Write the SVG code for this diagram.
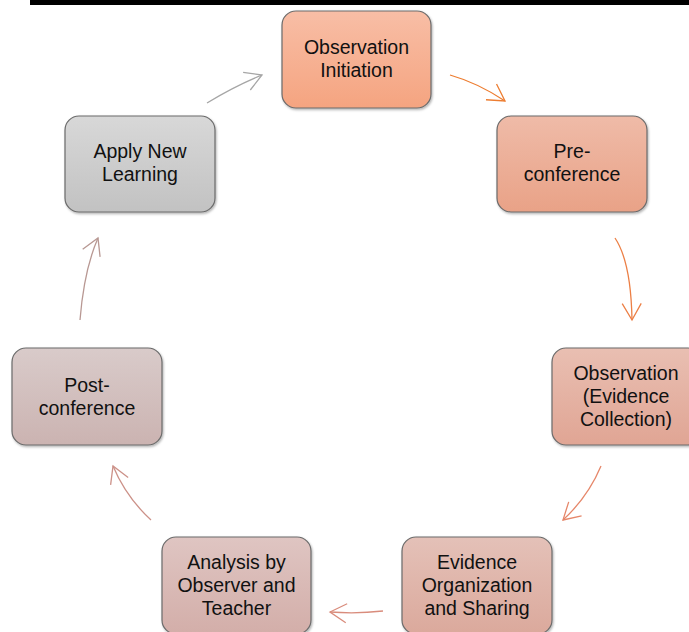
<svg xmlns="http://www.w3.org/2000/svg" width="689" height="632" viewBox="0 0 689 632">
<style>
.box{stroke:#6b6b6b;stroke-width:1.2;filter:url(#sh)}
.t{font-family:"Liberation Sans",Arial,sans-serif;font-size:19.5px;fill:#111;text-anchor:middle}
.c{fill:none;stroke-width:1.3}
</style>
<defs>
<filter id="sh" x="-10%" y="-10%" width="120%" height="120%"><feDropShadow dx="1" dy="1.5" stdDeviation="0.8" flood-color="#000" flood-opacity="0.3"/></filter>
<linearGradient id="g1" x1="0" y1="0" x2="0" y2="1"><stop offset="0" stop-color="#f8bea6"/><stop offset="1" stop-color="#f5a480"/></linearGradient>
<linearGradient id="g2" x1="0" y1="0" x2="0" y2="1"><stop offset="0" stop-color="#efbba8"/><stop offset="1" stop-color="#e9a287"/></linearGradient>
<linearGradient id="g3" x1="0" y1="0" x2="0" y2="1"><stop offset="0" stop-color="#e9bfb2"/><stop offset="1" stop-color="#e0a594"/></linearGradient>
<linearGradient id="g4" x1="0" y1="0" x2="0" y2="1"><stop offset="0" stop-color="#e4c1b8"/><stop offset="1" stop-color="#dba99c"/></linearGradient>
<linearGradient id="g5" x1="0" y1="0" x2="0" y2="1"><stop offset="0" stop-color="#dfc5c2"/><stop offset="1" stop-color="#d3aea9"/></linearGradient>
<linearGradient id="g6" x1="0" y1="0" x2="0" y2="1"><stop offset="0" stop-color="#d9cbca"/><stop offset="1" stop-color="#cbb3b1"/></linearGradient>
<linearGradient id="g7" x1="0" y1="0" x2="0" y2="1"><stop offset="0" stop-color="#d8d8d8"/><stop offset="1" stop-color="#c2c2c2"/></linearGradient>
<marker id="m1" markerUnits="userSpaceOnUse" viewBox="-20 -12 22 24" refX="0" refY="0" markerWidth="22" markerHeight="24" orient="auto"><path d="M-16.5,-9.5 L0,0 L-16.5,9.5" fill="none" stroke="#ed7d31" stroke-width="1.3"/></marker>
<marker id="m2" markerUnits="userSpaceOnUse" viewBox="-20 -12 22 24" refX="0" refY="0" markerWidth="22" markerHeight="24" orient="auto"><path d="M-16.5,-9.5 L0,0 L-16.5,9.5" fill="none" stroke="#ec7f45" stroke-width="1.3"/></marker>
<marker id="m3" markerUnits="userSpaceOnUse" viewBox="-20 -12 22 24" refX="0" refY="0" markerWidth="22" markerHeight="24" orient="auto"><path d="M-16.5,-9.5 L0,0 L-16.5,9.5" fill="none" stroke="#e6876a" stroke-width="1.3"/></marker>
<marker id="m4" markerUnits="userSpaceOnUse" viewBox="-20 -12 22 24" refX="0" refY="0" markerWidth="22" markerHeight="24" orient="auto"><path d="M-16.5,-9.5 L0,0 L-16.5,9.5" fill="none" stroke="#d98c7c" stroke-width="1.3"/></marker>
<marker id="m5" markerUnits="userSpaceOnUse" viewBox="-20 -12 22 24" refX="0" refY="0" markerWidth="22" markerHeight="24" orient="auto"><path d="M-16.5,-9.5 L0,0 L-16.5,9.5" fill="none" stroke="#cc9188" stroke-width="1.3"/></marker>
<marker id="m6" markerUnits="userSpaceOnUse" viewBox="-20 -12 22 24" refX="0" refY="0" markerWidth="22" markerHeight="24" orient="auto"><path d="M-16.5,-9.5 L0,0 L-16.5,9.5" fill="none" stroke="#b89893" stroke-width="1.3"/></marker>
<marker id="m7" markerUnits="userSpaceOnUse" viewBox="-20 -12 22 24" refX="0" refY="0" markerWidth="22" markerHeight="24" orient="auto"><path d="M-16.5,-9.5 L0,0 L-16.5,9.5" fill="none" stroke="#a6a6a6" stroke-width="1.3"/></marker>
</defs>
<rect width="689" height="632" fill="#fff"/>
<rect x="30" y="0" width="659" height="5" fill="#000"/>
<g id="connectors">
<path class="c" stroke="#ed7d31" marker-end="url(#m1)" d="M450,75 Q478,83 505,101"/>
<path class="c" stroke="#ec7f45" marker-end="url(#m2)" d="M615,238 Q631,262 632,320"/>
<path class="c" stroke="#e6876a" marker-end="url(#m3)" d="M601,466 Q588,497 563,520"/>
<path class="c" stroke="#d98c7c" marker-end="url(#m4)" d="M383,611 Q357,614 330,612"/>
<path class="c" stroke="#cc9188" marker-end="url(#m5)" d="M151,520 Q126,497 113,466"/>
<path class="c" stroke="#b89893" marker-end="url(#m6)" d="M80,320 Q84,270 98,238"/>
<path class="c" stroke="#a6a6a6" marker-end="url(#m7)" d="M207,103 Q235,86 262,75"/>
</g>
<g id="n1"><rect class="box" x="282" y="11" width="149" height="97" rx="14" fill="url(#g1)"/><text class="t" x="356.5" y="54">Observation</text><text class="t" x="356.5" y="77">Initiation</text></g>
<g id="n2"><rect class="box" x="497" y="116" width="150" height="96" rx="14" fill="url(#g2)"/><text class="t" x="572" y="158">Pre-</text><text class="t" x="572" y="181">conference</text></g>
<g id="n3"><rect class="box" x="552" y="348" width="150" height="97" rx="14" fill="url(#g3)"/><text class="t" x="626" y="380">Observation</text><text class="t" x="626" y="403">(Evidence</text><text class="t" x="626" y="426">Collection)</text></g>
<g id="n4"><rect class="box" x="402" y="537" width="150" height="97" rx="14" fill="url(#g4)"/><text class="t" x="477" y="569">Evidence</text><text class="t" x="477" y="592">Organization</text><text class="t" x="477" y="615">and Sharing</text></g>
<g id="n5"><rect class="box" x="162" y="537" width="149" height="97" rx="14" fill="url(#g5)"/><text class="t" x="236.5" y="569">Analysis by</text><text class="t" x="236.5" y="592">Observer and</text><text class="t" x="236.5" y="615">Teacher</text></g>
<g id="n6"><rect class="box" x="12" y="348" width="150" height="97" rx="14" fill="url(#g6)"/><text class="t" x="87" y="392">Post-</text><text class="t" x="87" y="415">conference</text></g>
<g id="n7"><rect class="box" x="65" y="116" width="150" height="96" rx="14" fill="url(#g7)"/><text class="t" x="140" y="158">Apply New</text><text class="t" x="140" y="181">Learning</text></g>
</svg>
